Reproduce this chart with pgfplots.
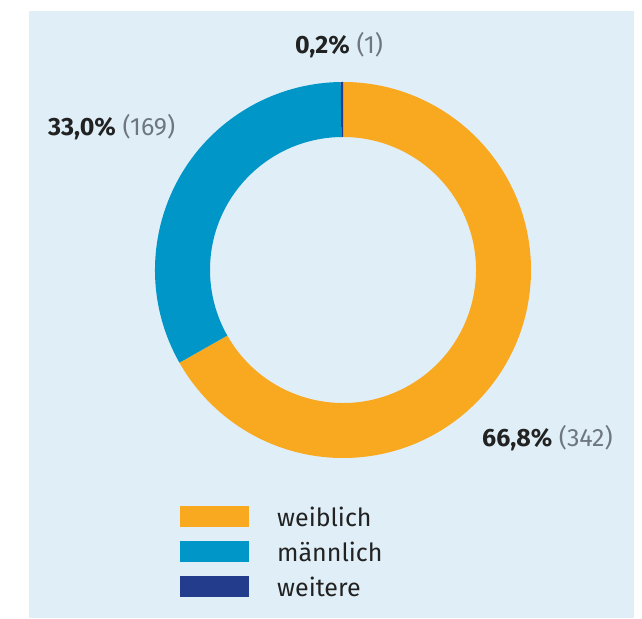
\documentclass[border=0pt]{standalone}
\usepackage{fontspec}
\setmainfont{Fira Sans}
\usepackage{pgfplots}
\pgfplotsset{compat=1.18}
\usepackage{pgfplotstable}
\usetikzlibrary{calc}
\definecolor{bgc}{HTML}{E0EFF7}
\definecolor{colweib}{HTML}{F9A91F}
\definecolor{colmann}{HTML}{0096C8}
\definecolor{colweit}{HTML}{233D8C}
\definecolor{txt}{HTML}{222222}
\definecolor{gry}{HTML}{6E7680}
\pgfplotstableread{
name      value
weiblich  342
maennlich 169
weitere   1
}\data
\begin{document}
\begin{tikzpicture}
\begin{axis}[
  scale only axis, width=642pt, height=618pt,
  xmin=0, xmax=642, ymin=0, ymax=618,
  hide axis, clip=false,
]
\path (axis cs:0,0) rectangle (axis cs:642,618);
\fill[bgc] (axis cs:29,0) rectangle (axis cs:634,607);
\pgfplotstablegetelem{0}{value}\of\data \let\vw\pgfplotsretval
\pgfplotstablegetelem{1}{value}\of\data \let\vm\pgfplotsretval
\pgfplotstablegetelem{2}{value}\of\data \let\vx\pgfplotsretval
\pgfmathsetmacro\tot{\vw+\vm+\vx}
\pgfmathsetmacro\aA{90}
\pgfmathsetmacro\aB{90-360*(\vw/\tot)}
\pgfmathsetmacro\aC{\aB-360*(\vm/\tot)}
\pgfmathsetmacro\aD{\aC-360*(\vx/\tot)}
\def\Ro{188pt}\def\Ri{133pt}
\coordinate (c) at (axis cs:343,348);
\fill[colweib] ($(c)+(\aA:\Ro)$) arc[start angle=\aA,end angle=\aB,radius=\Ro] -- ($(c)+(\aB:\Ri)$) arc[start angle=\aB,end angle=\aA,radius=\Ri] -- cycle;
\fill[colmann] ($(c)+(\aB:\Ro)$) arc[start angle=\aB,end angle=\aC,radius=\Ro] -- ($(c)+(\aC:\Ri)$) arc[start angle=\aC,end angle=\aB,radius=\Ri] -- cycle;
\fill[colweit] ($(c)+(\aC:\Ro)$) arc[start angle=\aC,end angle=\aD,radius=\Ro] -- ($(c)+(\aD:\Ri)$) arc[start angle=\aD,end angle=\aC,radius=\Ri] -- cycle;
% labels
\node[anchor=base west, inner sep=0pt, font=\fontsize{25}{29}\selectfont] at (axis cs:295,564) {\textcolor{txt}{\textbf{0,2\%}} \textcolor{gry}{(1)}};
\node[anchor=base west, inner sep=0pt, font=\fontsize{25}{29}\selectfont] at (axis cs:48,482) {\textcolor{txt}{\textbf{33,0\%}} \textcolor{gry}{(169)}};
\node[anchor=base west, inner sep=0pt, font=\fontsize{25}{29}\selectfont] at (axis cs:482,171) {\textcolor{txt}{\textbf{66,8\%}} \textcolor{gry}{(342)}};
% legend
\fill[colweib] (axis cs:180,91) rectangle (axis cs:249,112);
\fill[colmann] (axis cs:180,56) rectangle (axis cs:249,77);
\fill[colweit] (axis cs:180,21) rectangle (axis cs:249,42);
\node[anchor=base west, inner sep=0pt, text=txt, font=\fontsize{25}{29}\selectfont] at (axis cs:277,91) {weiblich};
\node[anchor=base west, inner sep=0pt, text=txt, font=\fontsize{25}{29}\selectfont] at (axis cs:277,56) {männlich};
\node[anchor=base west, inner sep=0pt, text=txt, font=\fontsize{25}{29}\selectfont] at (axis cs:277,21) {weitere};
\end{axis}
\end{tikzpicture}
\end{document}
